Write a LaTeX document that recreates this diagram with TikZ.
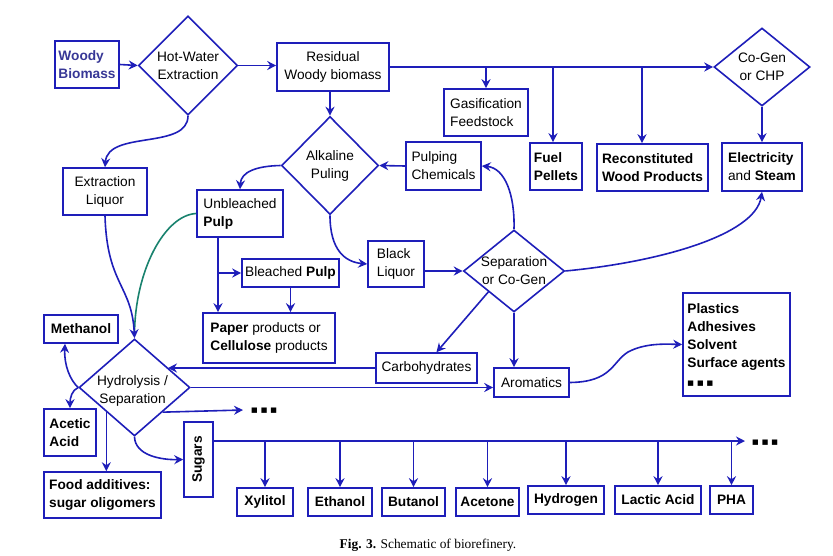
\documentclass[tikz,border=0pt]{standalone}
\usepackage{fontspec}
\setmainfont{Liberation Sans}
\newfontfamily\capfont{Liberation Serif}
\newfontfamily\dejavu{DejaVu Sans}
\usetikzlibrary{shapes.geometric,arrows.meta,calc}
\definecolor{bl1}{RGB}{30,30,185}
\definecolor{wbc}{RGB}{55,55,150}
\definecolor{grn}{RGB}{25,130,110}
\tikzset{
 box/.style={draw=bl1, line width=1.6pt, rectangle, inner sep=1pt},
 dia/.style={draw=bl1, line width=1.6pt, diamond, inner sep=0pt},
 lbl/.style={align=center, inner sep=0pt},
 arr/.style={draw=bl1, line width=1.6pt, -{Stealth[length=9pt,width=9pt,inset=3pt]}},
 wire/.style={draw=bl1, line width=1.6pt},
 bf/.style={font=\fontsize{13.7}{18}\selectfont\bfseries},
}
\newcommand{\dotsq}{{\dejavu\fontsize{7}{7}\selectfont ■\hspace{3pt}■\hspace{3pt}■}}
\begin{document}
\begin{tikzpicture}[x=1pt,y=-1pt,font=\fontsize{13.7}{18}\selectfont]
\useasboundingbox (0,0) rectangle (833,555);
% nodes
\node[box, bf, text=wbc, align=left, minimum width=64pt, minimum height=47pt] (wb) at (87,64.5) {Woody\\Biomass};
\node[dia, minimum width=99pt, minimum height=99pt, label={[lbl]center:Hot-Water\\Extraction}] (hw) at (188,65.5) {};
\node[box, align=center, minimum width=112pt, minimum height=48pt] (res) at (333,67) {Residual\\Woody biomass};
\node[box, align=left, minimum width=84pt, minimum height=47pt] (gas) at (486,112.5) {Gasification\\Feedstock};
\node[box, bf, align=left, minimum width=52pt, minimum height=47pt] (fuel) at (556,166.5) {Fuel\\Pellets};
\node[box, bf, align=left, minimum width=111pt, minimum height=47pt] (recon) at (652.5,167.5) {Reconstituted\\Wood Products};
\node[dia, minimum width=96pt, minimum height=78pt, label={[lbl]center:Co-Gen\\or CHP}] (cg) at (762,67) {};
\node[box, align=left, minimum width=80pt, minimum height=48pt] (elec) at (762,167) {\textbf{Electricity}\\and \textbf{Steam}};
\node[dia, minimum width=97pt, minimum height=98pt, label={[lbl]center:Alkaline\\Puling}] (alk) at (330,165.5) {};
\node[box, align=left, minimum width=75pt, minimum height=48pt] (pc) at (443.5,166) {Pulping\\Chemicals};
\node[box, align=center, minimum width=84pt, minimum height=47pt] (el) at (105,191.5) {Extraction\\Liquor};
\node[box, align=left, minimum width=86pt, minimum height=47pt] (up) at (240,213.5) {Unbleached\\\textbf{Pulp}};
\node[box, align=left, minimum width=56pt, minimum height=46pt] (bl) at (396,264) {Black\\Liquor};
\node[dia, minimum width=101pt, minimum height=82pt, label={[lbl]center:Separation\\or Co-Gen}] (sep) at (514,271) {};
\node[box, minimum width=101pt, minimum height=30pt] (carb) at (426.5,368) {Carbohydrates};
\node[box, minimum width=75pt, minimum height=29pt] (aro) at (531.5,382.5) {Aromatics};
\node[box, bf, align=left, minimum width=107pt, minimum height=103pt] (plast) at (736.5,344.5) {Plastics\\Adhesives\\Solvent\\Surface agents\\\dotsq};
\node[dia, minimum width=111pt, minimum height=97pt, label={[lbl,xshift=-2pt,yshift=-3pt]center:Hydrolysis /\\Separation}] (hyd) at (134.5,387.5) {};
\node[box, minimum width=97pt, minimum height=28pt] (bp) at (290.5,273) {Bleached \textbf{Pulp}};
\node[box, align=left, minimum width=132pt, minimum height=50pt] (paper) at (269,338) {\textbf{Paper} products or\\\textbf{Cellulose} products};
\node[box, bf, minimum width=74pt, minimum height=28pt] (meth) at (81,329) {Methanol};
\node[box, bf, align=left, minimum width=52pt, minimum height=47pt] (acet) at (70,432.5) {Acetic\\Acid};
\node[box, bf, align=left, minimum width=117pt, minimum height=46pt] (food) at (102.5,495) {Food additives:\\sugar oligomers};
\node[box, minimum width=29pt, minimum height=75pt, label={[bf,rotate=90]center:Sugars}] (sug) at (198.5,459.5) {};
\node[box, bf, minimum width=56pt, minimum height=28pt] (xyl) at (265,502) {Xylitol};
\node[box, bf, minimum width=64pt, minimum height=28pt] (eth) at (340,502) {Ethanol};
\node[box, bf, minimum width=63pt, minimum height=28pt] (but) at (413.5,502) {Butanol};
\node[box, bf, minimum width=63pt, minimum height=28pt] (ace) at (487.5,502) {Acetone};
\node[box, bf, minimum width=76pt, minimum height=28pt] (hyg) at (566,500) {Hydrogen};
\node[box, bf, minimum width=86pt, minimum height=28pt] (lac) at (658,500) {Lactic Acid};
\node[box, bf, minimum width=43pt, minimum height=28pt] (pha) at (731.5,500) {PHA};
\node[anchor=west, inner sep=0pt] (dots1) at (251,411) {\dotsq};
\node[anchor=west, inner sep=0pt] (dots2) at (752,443) {\dotsq};
\node[font=\capfont\fontsize{13.4}{15}\selectfont] (cap) at (428,545) {\textbf{Fig. 3.} Schematic of biorefinery.};
% coordinates
\coordinate (b3) at (642,67);
\coordinate (hc) at (168,368);
\coordinate (u1) at (218,237);
\coordinate (u2) at (218,273);
\coordinate (d1) at (243,410);
\coordinate (s0) at (213,441);
\coordinate (s1) at (745,441);
% connectors
\draw[arr] (wb.east) -- (hw.west);
\draw[arr] (hw.east) -- (hw.east -| res.west);
\draw[arr] (res.east) -- (cg.west);
\draw[arr] (res.east -| gas.north) -- (gas.north);
\draw[arr] ([xshift=-3pt]res.east -| fuel.north) -- ([xshift=-3pt]fuel.north);
\draw[arr] (b3) -- (b3 |- recon.north);
\draw[arr] (cg.south) -- (elec.north);
\draw[arr] (alk.north |- res.south) -- (alk.north);
\draw[arr] (pc.west) -- (alk.east);
\draw[arr] (sep.north) .. controls (515,195) and (505,168) .. (pc.east);
\draw[arr] (hw.south) .. controls (188,150) and (108,130) .. (el.north);
\draw[arr] (alk.west) .. controls (256,166) and (241,172) .. (up.north);
\draw[arr] (alk.south) .. controls (330,250) and (345,262) .. (bl.west);
\draw[arr] (bl.east |- sep.west) -- (sep.west);
\draw[arr] (sep.east) .. controls (660,262) and (755,235) .. (elec.south);
\draw[arr] (sep.south west) -- ([xshift=10pt]carb.north);
\draw[arr] (sep.south) -- (sep.south |- aro.north);
\draw[arr] (carb.west) -- (hc);
\draw[arr] (hyd.east) -- (hyd.east -| aro.west);
\draw[arr] (aro.east) .. controls (612,382) and (612,362) .. (628,352) .. controls (645,343) and (665,344) .. (plast.west);
\draw[grn, line width=1.6pt] (up.west) .. controls (165,215) and (135,270) .. ([yshift=4pt]hyd.north);
\draw[arr] (el.south) .. controls (107,285) and (132,285) .. (hyd.north);
\draw[arr] (u1) -- (u1 |- paper.north);
\draw[arr] (u2) -- (bp.west);
\draw[arr] (bp.south) -- (bp.south |- paper.north);
\draw[arr] (hyd.west) .. controls (70,380) and (64,365) .. ([xshift=-16pt]meth.south);
\draw[arr] (hyd.west) .. controls (72,390) and (70,398) .. (acet.north);
\draw[arr] (hyd.south west) -- (hyd.south west |- food.north);
\draw[arr] (hyd.south east) -- (d1);
\draw[arr] (hyd.south) .. controls (135,455) and (160,460) .. (sug.west);
\draw[arr] (s0) -- (s1);
\foreach \p in {xyl,eth,but,ace,hyg,lac,pha}{
  \draw[arr] (\p.north |- s0) -- (\p.north);
}
\end{tikzpicture}
\end{document}
